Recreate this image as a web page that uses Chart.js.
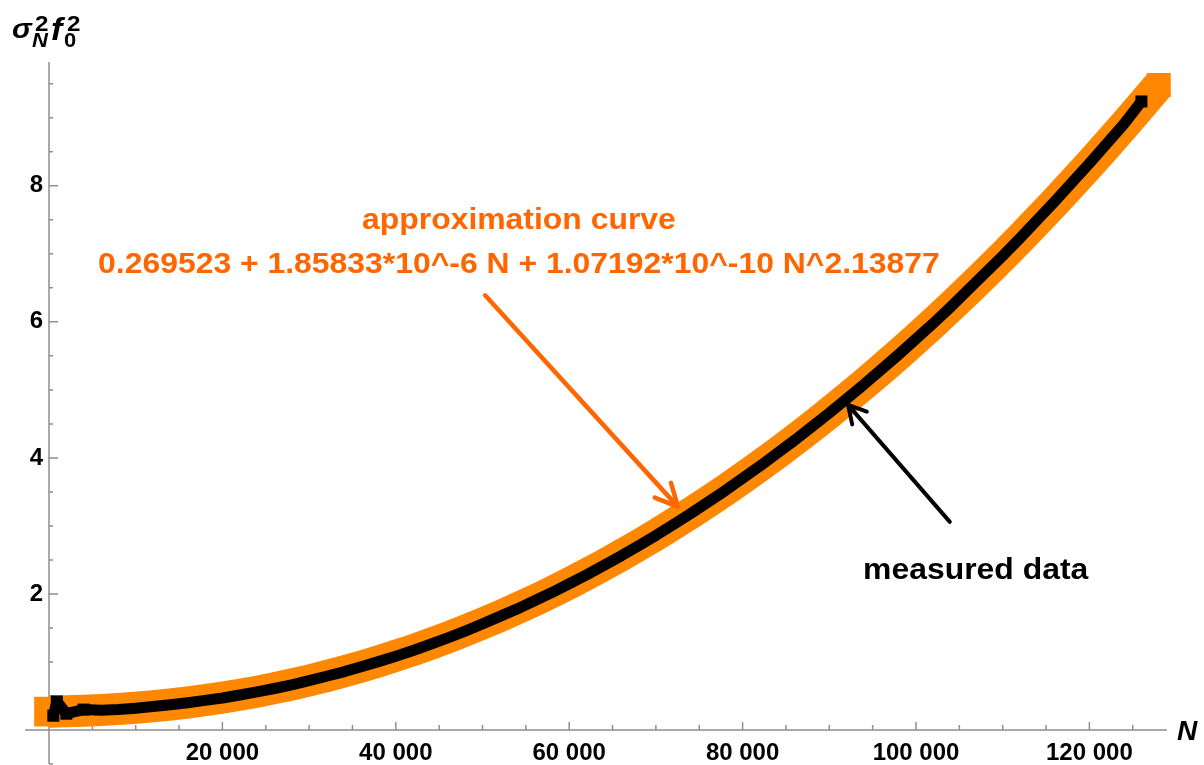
<!DOCTYPE html>
<html>
<head>
<meta charset="utf-8">
<script src="https://cdn.jsdelivr.net/npm/chart.js@4.4.1/dist/chart.umd.min.js"></script>
<style>
  html, body { margin: 0; padding: 0; background: #fff; }
</style>
</head>
<body>
<canvas id="grafico" width="1204" height="765"></canvas>
<script>
// Dados medidos (quadrados pretos)
const nMedido = [500, 900, 2000, 4000, 6000, 8000, 10000, 12000, 14000, 16000, 18000,
  20000, 22000, 24000, 26000, 28000, 30000, 32000, 34000, 36000, 38000,
  40000, 42000, 44000, 46000, 48000, 50000, 52000, 54000, 56000, 58000,
  60000, 62000, 64000, 66000, 68000, 70000, 72000, 74000, 76000, 78000,
  80000, 82000, 84000, 86000, 88000, 90000, 92000, 94000, 96000, 98000,
  100000, 102000, 104000, 106000, 108000, 110000, 112000, 114000, 116000, 118000,
  120000, 122000, 124000, 126000];
const valoresMedidos = [0.21, 0.42, 0.24, 0.30, 0.29, 0.30, 0.32, 0.345, 0.37, 0.40, 0.435,
  0.47, 0.515, 0.56, 0.61, 0.665, 0.725, 0.79, 0.855, 0.93, 1.005,
  1.085, 1.17, 1.26, 1.355, 1.455, 1.56, 1.67, 1.78, 1.90, 2.02,
  2.15, 2.28, 2.42, 2.56, 2.71, 2.86, 3.02, 3.18, 3.35, 3.52,
  3.70, 3.88, 4.07, 4.26, 4.46, 4.66, 4.87, 5.08, 5.30, 5.52,
  5.75, 5.98, 6.22, 6.47, 6.72, 6.97, 7.23, 7.50, 7.77, 8.05,
  8.33, 8.62, 8.91, 9.24];

// Curva de aproximação (faixa laranja)
const nAjuste = [0, 2000, 4000, 6000, 8000, 10000, 12000, 14000, 16000, 18000,
  20000, 22000, 24000, 26000, 28000, 30000, 32000, 34000, 36000, 38000,
  40000, 42000, 44000, 46000, 48000, 50000, 52000, 54000, 56000, 58000,
  60000, 62000, 64000, 66000, 68000, 70000, 72000, 74000, 76000, 78000,
  80000, 82000, 84000, 86000, 88000, 90000, 92000, 94000, 96000, 98000,
  100000, 102000, 104000, 106000, 108000, 110000, 112000, 114000, 116000, 118000,
  120000, 122000, 124000, 126000, 128000];
const valoresAjuste = [0.270, 0.274, 0.282, 0.294, 0.308, 0.327, 0.349, 0.375, 0.404, 0.438,
  0.476, 0.518, 0.564, 0.615, 0.669, 0.728, 0.792, 0.860, 0.932, 1.009,
  1.090, 1.175, 1.266, 1.361, 1.460, 1.565, 1.673, 1.787, 1.905, 2.028,
  2.156, 2.289, 2.426, 2.569, 2.716, 2.868, 3.025, 3.187, 3.354, 3.526,
  3.703, 3.885, 4.071, 4.263, 4.460, 4.662, 4.870, 5.082, 5.299, 5.521,
  5.749, 5.982, 6.220, 6.463, 6.711, 6.964, 7.223, 7.487, 7.756, 8.031,
  8.311, 8.596, 8.886, 9.182, 9.482];

// Ticks
const xTicks = [20000, 40000, 60000, 80000, 100000, 120000];
const xTickLabels = ['20 000', '40 000', '60 000', '80 000', '100 000', '120 000'];
const yTicks = [2, 4, 6, 8];
const yTickLabels = ['2', '4', '6', '8'];

const laranja = '#ff8800';
const laranjaTexto = '#ff6600';
const corEixo = '#8f8f8f';

function seta(ctx, x1, y1, x2, y2, cor, largura, ponta, angulo) {
    const a = Math.atan2(y1 - y2, x1 - x2);
    ctx.save();
    ctx.strokeStyle = cor;
    ctx.lineWidth = largura;
    ctx.lineCap = 'round';
    ctx.lineJoin = 'round';
    ctx.beginPath();
    ctx.moveTo(x1, y1);
    ctx.lineTo(x2, y2);
    ctx.moveTo(x2 + ponta * Math.cos(a + angulo), y2 + ponta * Math.sin(a + angulo));
    ctx.lineTo(x2, y2);
    ctx.lineTo(x2 + ponta * Math.cos(a - angulo), y2 + ponta * Math.sin(a - angulo));
    ctx.stroke();
    ctx.restore();
}

function texto(ctx, str, x, y, fonte, cor, alinhamento, esticar) {
    ctx.save();
    ctx.translate(x, y);
    ctx.scale(esticar, 1);
    ctx.font = fonte;
    ctx.fillStyle = cor;
    ctx.textAlign = alinhamento;
    ctx.textBaseline = 'alphabetic';
    ctx.fillText(str, 0, 0);
    ctx.restore();
}

// Eixos no estilo do Mathematica (cruzando na origem, ticks para dentro)
const eixosPlugin = {
    id: 'eixos',
    beforeDatasetsDraw(chart) {
        const { ctx, scales: { x, y } } = chart;
        const x0 = x.getPixelForValue(0);
        const y0 = y.getPixelForValue(0);
        ctx.save();
        ctx.strokeStyle = corEixo;
        ctx.lineWidth = 1.5;
        ctx.beginPath();
        ctx.moveTo(x.getPixelForValue(-2770), y0);
        ctx.lineTo(x.right, y0);
        ctx.moveTo(x0, y.top);
        ctx.lineTo(x0, y.getPixelForValue(-0.5));
        for (let v = 5000; v <= 125000; v += 5000) {
            const px = x.getPixelForValue(v);
            const len = v % 20000 === 0 ? 8 : 5;
            ctx.moveTo(px, y0);
            ctx.lineTo(px, y0 - len);
        }
        for (let v = -0.5; v <= 9.5; v += 0.5) {
            if (v === 0) continue;
            const py = y.getPixelForValue(v);
            const len = v % 2 === 0 ? 9 : 4;
            ctx.moveTo(x0, py);
            ctx.lineTo(x0 + len, py);
        }
        ctx.stroke();
        ctx.restore();
    },
    afterDraw(chart) {
        const { ctx, scales: { x, y } } = chart;
        const px = (v) => x.getPixelForValue(v);
        const py = (v) => y.getPixelForValue(v);

        // rótulo do eixo y: sigma_N^2 f_0^2
        texto(ctx, 'σ', 12, 38, 'italic bold 27px "Liberation Sans"', '#000', 'left', 1.1);
        texto(ctx, '2', 35, 31, 'bold 22px "Liberation Sans"', '#000', 'left', 1.1);
        texto(ctx, 'N', 32, 47, 'italic bold 20px "Liberation Sans"', '#000', 'left', 1.1);
        texto(ctx, 'f', 51, 40, 'italic bold 31px "Liberation Sans"', '#000', 'left', 1.1);
        texto(ctx, '2', 67, 31, 'bold 22px "Liberation Sans"', '#000', 'left', 1.1);
        texto(ctx, '0', 64, 47, 'bold 20px "Liberation Sans"', '#000', 'left', 1.1);
        // rótulo do eixo x
        texto(ctx, 'N', 1177, 740, 'italic bold 28px "Liberation Sans"', '#000', 'left', 1.0);

        // anotação da curva de aproximação
        texto(ctx, 'approximation curve', px(54200), py(7.36), 'bold 29px "Liberation Sans"', laranjaTexto, 'center', 1.1);
        texto(ctx, '0.269523 + 1.85833*10^-6 N + 1.07192*10^-10 N^2.13877', px(54200), py(6.72),
            'bold 29px "Liberation Sans"', laranjaTexto, 'center', 1.1);
        seta(ctx, px(50300), py(6.39), px(72550), py(3.28), laranjaTexto, 4.5, 25, 26 * Math.PI / 180);

        // anotação dos dados medidos
        texto(ctx, 'measured data', px(93900), py(2.22), 'bold 29px "Liberation Sans"', '#000', 'left', 1.1);
        seta(ctx, px(103900), py(3.06), px(92160), py(4.78), '#000', 4, 20, 29 * Math.PI / 180);
    }
};

// quadrados só onde a faixa precisa de cantos (início, fim e pontos isolados)
const raioMedido = (c) => (c.dataIndex < 4 || c.dataIndex === nMedido.length - 1) ? 8.5 : 0;
const raioAjuste = (c) => c.dataIndex === 0 ? 21 : (c.dataIndex === nAjuste.length - 1 ? 17 : 0);

const config = {
    type: 'line',
    data: {
        datasets: [
            {
                label: 'measured data',
                data: nMedido.map((n, i) => ({ x: n, y: valoresMedidos[i] })),
                borderColor: '#000',
                backgroundColor: '#000',
                borderWidth: 11,
                borderJoinStyle: 'round',
                pointStyle: 'rect',
                pointRadius: raioMedido,
                pointBorderWidth: 0,
                pointBackgroundColor: '#000',
                tension: 0,
                clip: false,
                order: 0
            },
            {
                label: 'approximation curve',
                data: nAjuste.map((n, i) => ({ x: n, y: valoresAjuste[i] })),
                borderColor: laranja,
                backgroundColor: laranja,
                borderWidth: 32,
                borderJoinStyle: 'round',
                pointStyle: 'rect',
                pointRadius: raioAjuste,
                pointBorderWidth: 0,
                pointBackgroundColor: laranja,
                tension: 0,
                clip: false,
                order: 1
            }
        ]
    },
    options: {
        responsive: false,
        animation: false,
        events: [],
        layout: { padding: { left: 0, right: 37, top: 62, bottom: 0 } },
        plugins: {
            legend: { display: false },
            tooltip: { enabled: false },
            title: { display: false }
        },
        scales: {
            x: {
                type: 'linear',
                min: 0,
                max: 128950,
                grid: { display: false, drawTicks: false },
                border: { display: false },
                afterBuildTicks: (s) => { s.ticks = xTicks.map(v => ({ value: v })); },
                afterFit: (s) => { s.height = 35; },
                ticks: {
                    autoSkip: false,
                    maxRotation: 0,
                    padding: 9,
                    color: '#000',
                    font: { family: 'Liberation Sans', weight: 'bold', size: 24 },
                    callback: (v, i) => xTickLabels[i]
                }
            },
            y: {
                type: 'linear',
                min: 0,
                max: 9.82,
                grid: { display: false, drawTicks: false },
                border: { display: false },
                afterBuildTicks: (s) => { s.ticks = yTicks.map(v => ({ value: v })); },
                afterFit: (s) => { s.width = 49; },
                ticks: {
                    autoSkip: false,
                    padding: 6,
                    color: '#000',
                    font: { family: 'Liberation Sans', weight: 'bold', size: 24 },
                    callback: (v, i) => yTickLabels[i]
                }
            }
        }
    },
    plugins: [eixosPlugin]
};

const meuGrafico = new Chart(document.getElementById('grafico'), config);
</script>
</body>
</html>
